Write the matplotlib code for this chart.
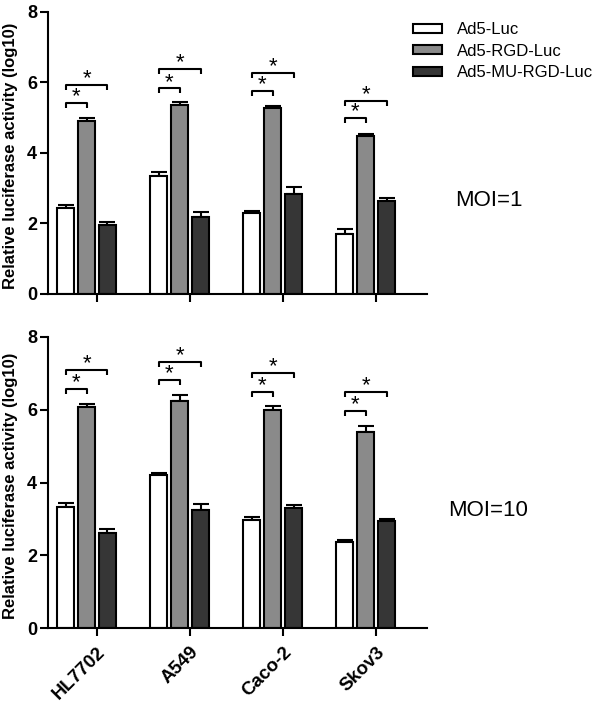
import numpy as np
import matplotlib
matplotlib.use('Agg')
import matplotlib.pyplot as plt
from matplotlib.patches import Patch

plt.rcParams['font.family'] = ['Liberation Sans', 'DejaVu Sans']

cells = ['HL7702', 'A549', 'Caco-2', 'Skov3']
series = ['Ad5-Luc', 'Ad5-RGD-Luc', 'Ad5-MU-RGD-Luc']
colors = ['#ffffff', '#8a8a8a', '#363636']

# MOI=1
moi1_luc = [2.43, 3.36, 2.29, 1.70]
moi1_luc_err = [0.09, 0.09, 0.06, 0.13]
moi1_rgd = [4.92, 5.35, 5.29, 4.49]
moi1_rgd_err = [0.08, 0.11, 0.04, 0.06]
moi1_mu = [1.97, 2.19, 2.85, 2.63]
moi1_mu_err = [0.06, 0.13, 0.19, 0.10]
moi1_sig_short = [5.41, 5.83, 5.76, 4.98]
moi1_sig_long = [5.93, 6.37, 6.26, 5.48]

# MOI=10
moi10_luc = [3.34, 4.22, 2.97, 2.37]
moi10_luc_err = [0.09, 0.05, 0.08, 0.06]
moi10_rgd = [6.09, 6.24, 6.00, 5.40]
moi10_rgd_err = [0.06, 0.16, 0.11, 0.16]
moi10_mu = [2.62, 3.26, 3.29, 2.94]
moi10_mu_err = [0.11, 0.14, 0.09, 0.07]
moi10_sig_short = [6.58, 6.81, 6.49, 5.98]
moi10_sig_long = [7.10, 7.31, 7.01, 6.49]

step = 0.225
width = 0.18
x = np.arange(len(cells))

fig = plt.figure(figsize=(6, 7.05), dpi=100)
ax1 = fig.add_axes([0.08, 0.583, 0.632, 0.40])
ax2 = fig.add_axes([0.08, 0.109, 0.632, 0.413])


def draw(ax, vals, errs, short, long_, labels):
	for k in range(3):
		ax.bar(x + (k - 1) * step, vals[k], width, color=colors[k], edgecolor='black',
		       linewidth=1.5, zorder=2)
		ax.errorbar(x + (k - 1) * step, vals[k], yerr=[np.zeros(len(x)), errs[k]], fmt='none',
		            ecolor='black', elinewidth=1.5, capsize=5.5, capthick=1.5, zorder=1)
	dh = 0.14
	for i in range(len(x)):
		for y, x2 in [(short[i], x[i]), (long_[i], x[i] + step)]:
			x1 = x[i] - step
			ax.plot([x1, x1, x2, x2], [y - dh, y, y, y - dh], color='black', lw=1.5,
			        solid_capstyle='butt')
			ax.text((x1 + x2) / 2, y - 0.12, '*', ha='center', va='bottom', fontsize=16)
	ax.set_xlim(-0.414, 3.66)
	ax.set_ylim(0, 8)
	ax.set_yticks([0, 2, 4, 6, 8])
	ax.set_xticks(x + 0.113)
	for s in ['top', 'right']:
		ax.spines[s].set_visible(False)
	for s in ['left', 'bottom']:
		ax.spines[s].set_linewidth(1.5)
	ax.tick_params(direction='out', length=6, width=1.5, labelsize=13, pad=2)
	for t in ax.get_yticklabels():
		t.set_fontweight('bold')
	if labels:
		ax.set_xticklabels(cells, rotation=45, ha='right', va='top', rotation_mode='anchor',
		                   fontweight='bold', fontsize=13.5)
		ax.tick_params(axis='x', pad=5)
	else:
		ax.set_xticklabels([])
	ax.set_ylabel('Relative luciferase activity (log10)', fontsize=12, fontweight='bold')
	ax.yaxis.set_label_coords(-0.078, 0.49)


draw(ax1, [moi1_luc, moi1_rgd, moi1_mu], [moi1_luc_err, moi1_rgd_err, moi1_mu_err],
     moi1_sig_short, moi1_sig_long, False)
draw(ax2, [moi10_luc, moi10_rgd, moi10_mu], [moi10_luc_err, moi10_rgd_err, moi10_mu_err],
     moi10_sig_short, moi10_sig_long, True)

handles = [Patch(facecolor=colors[k], edgecolor='black', linewidth=1.5) for k in range(3)]
fig.legend(handles, series, loc='upper left', bbox_to_anchor=(413 / 600, 1 - 22 / 705),
           frameon=False, fontsize=12, handlelength=1.75, handleheight=0.45,
           labelspacing=0.4, handletextpad=0.9, borderpad=0, borderaxespad=0)

fig.text(455 / 600, 1 - 200.5 / 705, 'MOI=1', fontsize=16, va='center', ha='left')
fig.text(448 / 600, 1 - 511 / 705, 'MOI=10', fontsize=16, va='center', ha='left')

plt.savefig('out.png', dpi=100)
